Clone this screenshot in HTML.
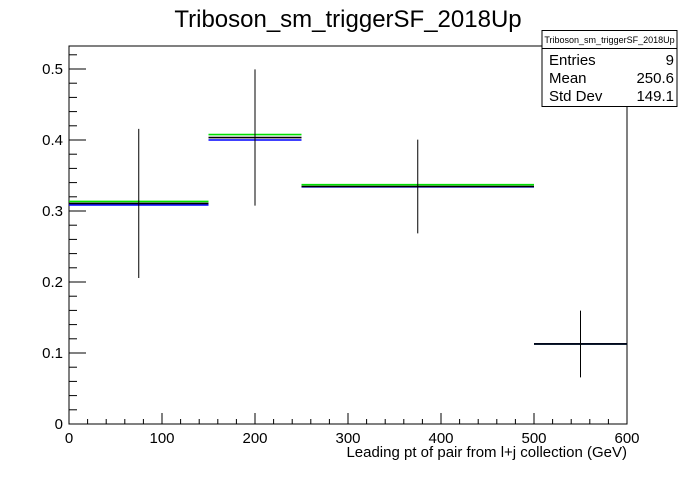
<!DOCTYPE html>
<html><head><meta charset="utf-8"><style>
body{margin:0;background:#fff;font-family:"Liberation Sans",Arial,sans-serif}
svg text{font-family:"Liberation Sans",Arial,sans-serif}
</style></head><body>
<svg id="c" width="696" height="472" xmlns="http://www.w3.org/2000/svg">
<rect width="696" height="472" fill="#fff"/>
<text x="348" y="27" font-size="24" text-anchor="middle">Triboson_sm_triggerSF_2018Up</text>
<g id="plot"></g>
<g>
<rect x="542" y="30.5" width="135" height="76" fill="#fff" stroke="#000" stroke-width="1"/>
<line x1="542" y1="48.5" x2="677" y2="48.5" stroke="#000"/>
<text x="609.5" y="43" font-size="9" text-anchor="middle">Triboson_sm_triggerSF_2018Up</text>
<text x="549" y="65" font-size="15">Entries</text>
<text x="674" y="65" font-size="15" text-anchor="end">9</text>
<text x="549" y="83" font-size="15">Mean</text>
<text x="674" y="83" font-size="15" text-anchor="end">250.6</text>
<text x="549" y="101" font-size="15">Std Dev</text>
<text x="674" y="101" font-size="15" text-anchor="end">149.1</text>
</g>
<text x="627" y="457" font-size="15" text-anchor="end">Leading pt of pair from l+j collection (GeV)</text>
</svg>
<script>
const binEdges=[0,150,250,500,600];
const blackVals=[0.3106,0.4035,0.3345,0.1127];
const blackErrs=[0.105,0.096,0.066,0.047];
const greenVals=[0.3134,0.4077,0.337,0.1127];
const blueVals=[0.3085,0.400,0.334,0.1127];
const xTicks=[0,100,200,300,400,500,600];
const yTicks=[0,0.1,0.2,0.3,0.4,0.5];
const yTickLabels=["0","0.1","0.2","0.3","0.4","0.5"];
const X0=69,X1=627,Y0=424,Y1=46,XMAX=600,YMAX=(424-46)/710;
const sx=v=>X0+(X1-X0)*v/XMAX;
const sy=v=>Y0-(Y0-Y1)*v/YMAX;
const NS="http://www.w3.org/2000/svg";
const g=document.getElementById('plot');
function ln(x1,y1,x2,y2,c,w){const l=document.createElementNS(NS,'line');l.setAttribute('x1',x1);l.setAttribute('y1',y1);l.setAttribute('x2',x2);l.setAttribute('y2',y2);l.setAttribute('stroke',c);l.setAttribute('stroke-width',w||1);g.appendChild(l);return l;}
function tx(x,y,s,a){const t=document.createElementNS(NS,'text');t.setAttribute('x',x);t.setAttribute('y',y);t.setAttribute('font-size',15);t.setAttribute('text-anchor',a);t.textContent=s;g.appendChild(t);return t;}
const fr=document.createElementNS(NS,'rect');
fr.setAttribute('x',X0);fr.setAttribute('y',Y1);fr.setAttribute('width',X1-X0);fr.setAttribute('height',Y0-Y1);fr.setAttribute('fill','none');fr.setAttribute('stroke','#000');


g.appendChild(fr);
for(let v=0;v<=600;v+=20){const maj=v%100===0;const l=ln(sx(v),Y0,sx(v),Y0-(maj?11:5),'#000');

}
xTicks.forEach(v=>{const t=tx(sx(v),Y0+19,String(v),'middle');

});
for(let i=0;i<=26;i++){const v=i*0.02;if(v>YMAX)break;const maj=i%5===0;const l=ln(X0,sy(v),X0+(maj?17:8),sy(v),'#000');

}
yTicks.forEach((v,i)=>{const t=tx(X0-6,sy(v)+5,yTickLabels[i],'end');

});
function series(vals,col,name){vals.forEach((v,i)=>{const l=ln(sx(binEdges[i]),sy(v),sx(binEdges[i+1]),sy(v),col,1.6);

});}
series(greenVals,'#00e000','green-series');
series(blueVals,'#0000ff','blue-series');
series(blackVals,'#000','black-series');
blackVals.forEach((v,i)=>{const c=(binEdges[i]+binEdges[i+1])/2;const l=ln(sx(c),sy(v+blackErrs[i]),sx(c),sy(v-blackErrs[i]),'#000',1);

});
</script>
</body></html>
